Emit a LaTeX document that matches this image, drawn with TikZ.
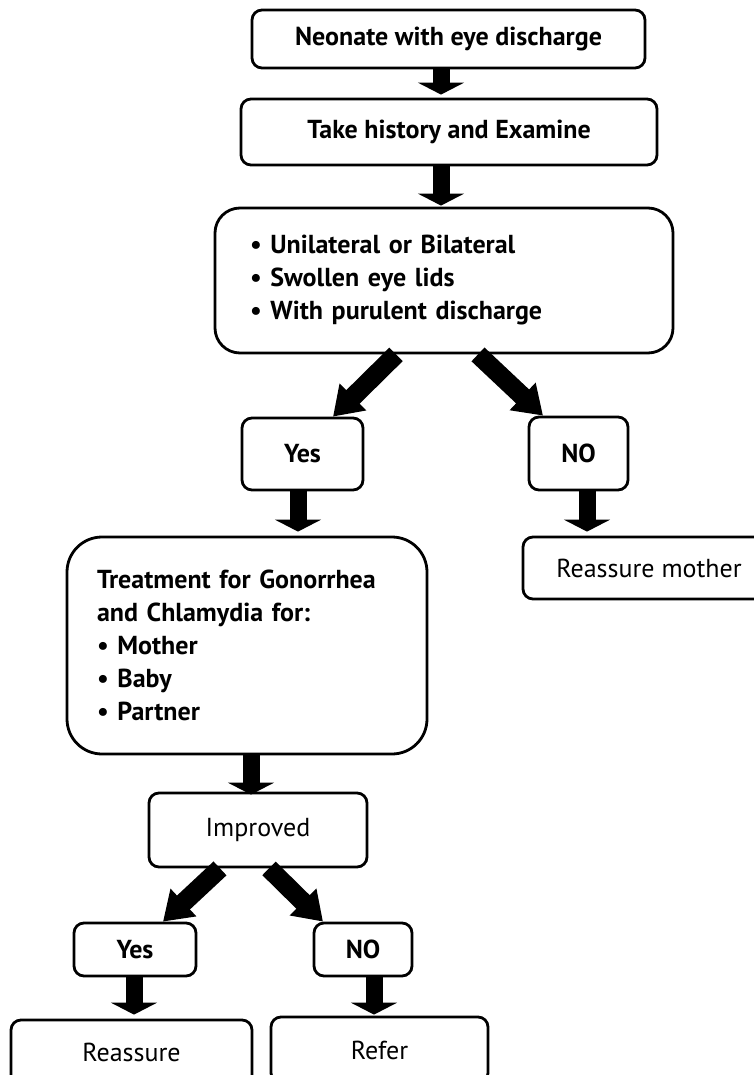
\documentclass[tikz,border=0pt]{standalone}
\usepackage{fontspec}
\setmainfont{PT Sans}
\usetikzlibrary{arrows.meta}

\tikzset{
  box/.style={draw, line width=2.8pt, rounded corners=10pt, align=center, inner sep=0pt,
    font=\fontsize{26}{33}\selectfont},
  bbox/.style={box, font=\fontsize{26}{33}\selectfont\bfseries},
  flow/.style={line width=17pt, -{Triangle[width=46pt,length=12pt]}},
  slant/.style={line width=19pt, -{Triangle[width=36pt,length=28pt]}},
}

\begin{document}
\begin{tikzpicture}[x=1pt,y=-1pt]
        \path[fill=white,use as bounding box] (0,0) rectangle (754,1075);
        \node[bbox, minimum width=393pt, minimum height=58pt] (neonate) at (448.5,39) {Neonate with eye discharge};
        \node[bbox, minimum width=416pt, minimum height=66pt] (history) at (449,132) {Take history and Examine};
        \node[bbox, rounded corners=25pt, minimum width=458pt, minimum height=145pt, text width=388pt, align=left] (signs) at (444,280.5)
            {\textbullet\ Unilateral or Bilateral\\ \textbullet\ Swollen eye lids\\ \textbullet\ With purulent discharge};
        \node[bbox, minimum width=121pt, minimum height=72pt] (yesA) at (302.5,454) {Yes};
        \node[bbox, minimum width=99pt, minimum height=73pt] (noA) at (578.5,453.5) {NO};
        \node[box, minimum width=252pt, minimum height=62pt] (remum) at (649,568) {Reassure mother};
        \node[bbox, rounded corners=35pt, minimum width=360pt, minimum height=217pt, text width=300pt, align=left] (treat) at (247,645.5)
            {Treatment for Gonorrhea\\ and Chlamydia for:\\ \textbullet\ Mother\\ \textbullet\ Baby\\ \textbullet\ Partner};
        \node[box, minimum width=218pt, minimum height=74pt] (improved) at (258,830) {Improved};
        \node[bbox, minimum width=122pt, minimum height=53pt] (yesB) at (135,949.5) {Yes};
        \node[bbox, minimum width=98pt, minimum height=53pt] (noB) at (363,949.5) {NO};
        \node[box, minimum width=241pt, minimum height=65pt] (reassure) at (131.5,1052.5) {Reassure};
        \node[box, minimum width=217pt, minimum height=66pt] (refer) at (379.5,1050) {Refer};
        \draw[flow] ([xshift=-7.5pt]neonate.south) -- ([xshift=-8pt,yshift=3pt]history.north);
        \draw[flow] ([xshift=-8pt]history.south) -- ([xshift=-3pt,yshift=1pt]signs.north);
        \draw[slant] ([xshift=-48pt]signs.south) -- ([xshift=30.5pt]yesA.north);
        \draw[slant] ([xshift=34pt]signs.south) -- ([xshift=-35.5pt]noA.north);
        \draw[flow] ([xshift=-4.5pt]yesA.south) -- ([xshift=51pt,yshift=4pt]treat.north);
        \draw[flow] ([xshift=8.5pt]noA.south) -- ([xshift=-62pt,yshift=4pt]remum.north);
        \draw[flow] ([xshift=4pt]treat.south) -- ([xshift=-7pt,yshift=-3pt]improved.north);
        \draw[slant] ([xshift=-38pt]improved.south) -- ([xshift=28pt]yesB.north);
        \draw[slant] ([xshift=11pt]improved.south) -- ([xshift=-40pt]noB.north);
        \draw[flow] ([xshift=-1pt]yesB.south) -- ([xshift=2.5pt,yshift=4pt]reassure.north);
        \draw[flow] ([xshift=11pt]noB.south) -- ([xshift=-5.5pt,yshift=1pt]refer.north);
    \end{tikzpicture}
\end{document}
